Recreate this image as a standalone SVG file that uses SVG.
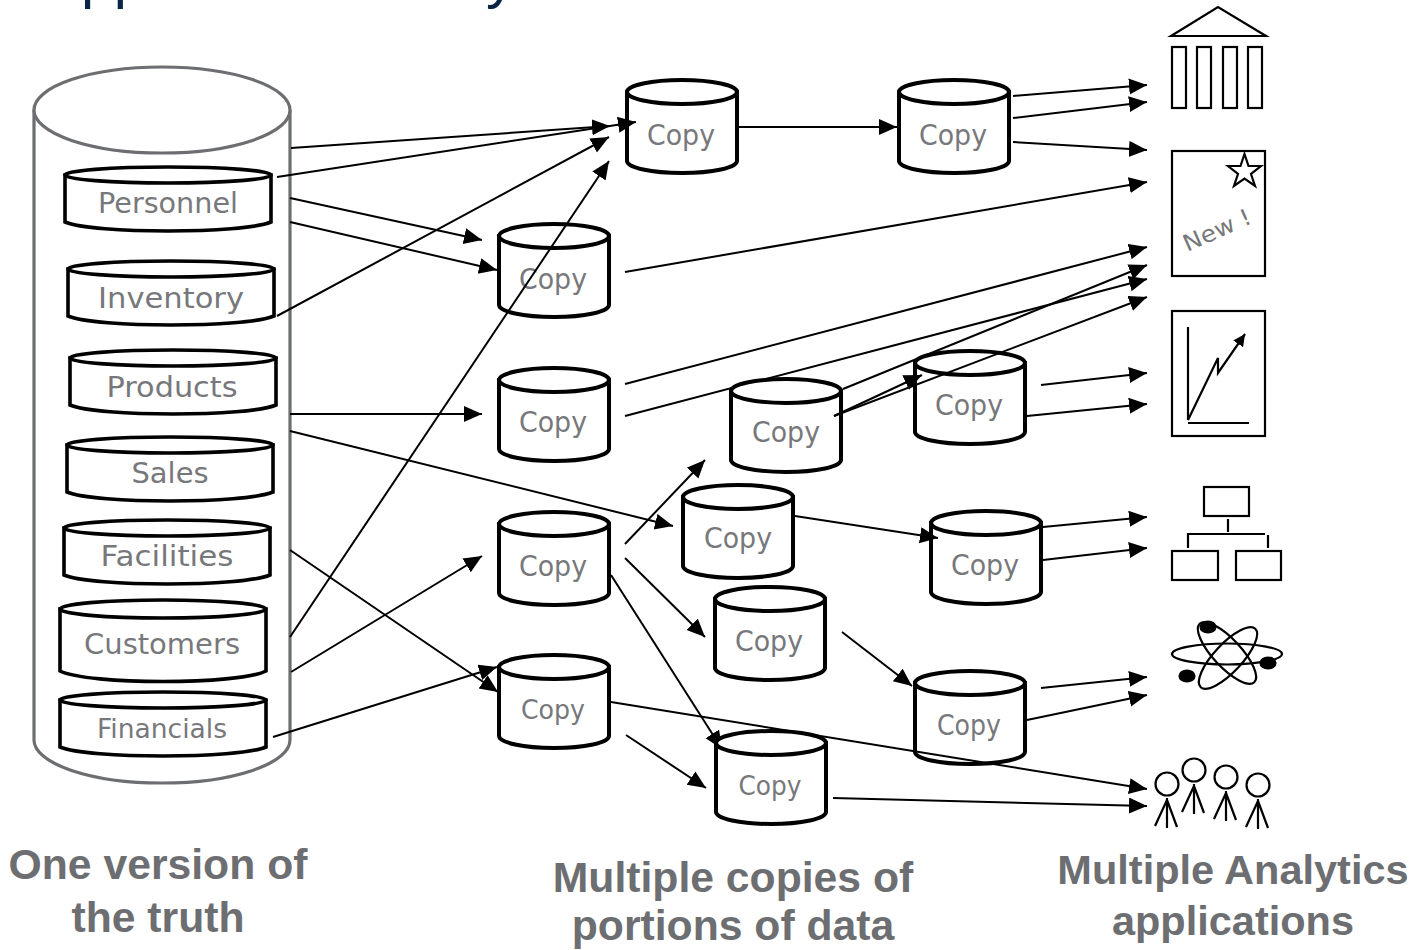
<svg xmlns="http://www.w3.org/2000/svg" xmlns:xlink="http://www.w3.org/1999/xlink" width="1425" height="950" viewBox="0 0 1425 950">
<style>
.can{fill:#fff;stroke:#000;stroke-width:4}
.tier{fill:#fff;stroke:#000;stroke-width:3.6}
.lbl{font-family:"DejaVu Sans",sans-serif;font-size:29px;fill:#77787b;text-anchor:middle}
.cap{font-family:"Liberation Sans",Arial,sans-serif;font-weight:bold;font-size:42.7px;fill:#6d6e71;text-anchor:middle}
.title{font-family:"Liberation Sans",Arial,sans-serif;font-size:59px;fill:#0b2545}
.c line{stroke:#000;stroke-width:2;marker-end:url(#ah)}
.ico{fill:#fff;stroke:#000;stroke-width:2.2}
.ln{fill:none;stroke:#000;stroke-width:2.2}
</style>
<defs>
<marker id="ah" markerUnits="userSpaceOnUse" markerWidth="20" markerHeight="18" refX="18" refY="8" orient="auto"><path d="M0,0L18,8L0,16Z" fill="#000"/></marker>
<marker id="ah2" markerUnits="userSpaceOnUse" markerWidth="14" markerHeight="14" refX="12" refY="6" orient="auto"><path d="M0,0L12,6L0,12Z" fill="#000"/></marker>
<g id="copycan"><path class="can" d="M2,14V83A55,12 0 0 0 112,83V14Z"/><ellipse class="can" cx="57" cy="14" rx="55" ry="12"/></g>
<g id="tier"><path class="tier" d="M2,10V57C30,69 180,69 208,57V10Z"/><ellipse class="tier" cx="105" cy="10" rx="103" ry="8"/></g>
<g id="tiertall"><path class="tier" d="M2,12V74C30,88 180,88 208,74V12Z"/><ellipse class="tier" cx="105" cy="12" rx="103" ry="9"/></g>
</defs>
<text class="title" x="81" y="-3.5">pp</text>
<text class="title" x="486" y="-3.5">y</text>

<g id="warehouse"><path d="M34,110V740A128,43 0 0 0 290,740V110" fill="#fff" stroke="#6d6e71" stroke-width="3.2"/><ellipse cx="162" cy="110" rx="128" ry="43" fill="#fff" stroke="#6d6e71" stroke-width="3.2"/></g>
<g id="personnel" transform="translate(63,165)"><use href="#tier"/><text class="lbl" x="105" y="48" textLength="140" lengthAdjust="spacingAndGlyphs">Personnel</text></g>
<g id="inventory" transform="translate(66,259)"><use href="#tier"/><text class="lbl" x="105" y="49" textLength="146" lengthAdjust="spacingAndGlyphs">Inventory</text></g>
<g id="products" transform="translate(68,348)"><use href="#tier"/><text class="lbl" x="104" y="49" textLength="131" lengthAdjust="spacingAndGlyphs">Products</text></g>
<g id="sales" transform="translate(65,435)"><use href="#tier"/><text class="lbl" x="105" y="48" textLength="77" lengthAdjust="spacingAndGlyphs">Sales</text></g>
<g id="facilities" transform="translate(62,518)"><use href="#tier"/><text class="lbl" x="105" y="48" textLength="133" lengthAdjust="spacingAndGlyphs">Facilities</text></g>
<g id="customers" transform="translate(58,597)"><use href="#tiertall"/><text class="lbl" x="104" y="57" textLength="156" lengthAdjust="spacingAndGlyphs">Customers</text></g>
<g id="financials" transform="translate(58,690)"><use href="#tier"/><text class="lbl" x="104" y="48" style="font-size:27px" textLength="130" lengthAdjust="spacingAndGlyphs">Financials</text></g>

<g id="copy1" transform="translate(625,78)"><use href="#copycan"/><text class="lbl" x="56" y="67" textLength="68" lengthAdjust="spacingAndGlyphs">Copy</text></g>
<g id="copy2" transform="translate(897,78)"><use href="#copycan"/><text class="lbl" x="56" y="67" textLength="68" lengthAdjust="spacingAndGlyphs">Copy</text></g>
<g id="copy3" transform="translate(497,222)"><use href="#copycan"/><text class="lbl" x="56" y="67" textLength="68" lengthAdjust="spacingAndGlyphs">Copy</text></g>
<g id="copy4" transform="translate(497,366)"><use href="#copycan"/><text class="lbl" x="56" y="66" textLength="68" lengthAdjust="spacingAndGlyphs">Copy</text></g>
<g id="copy6" transform="translate(913,349)"><use href="#copycan"/><text class="lbl" x="56" y="66" textLength="68" lengthAdjust="spacingAndGlyphs">Copy</text></g>
<g id="copy7" transform="translate(681,483)"><use href="#copycan"/><text class="lbl" x="57" y="65" textLength="68" lengthAdjust="spacingAndGlyphs">Copy</text></g>
<g id="copy8" transform="translate(929,509)"><use href="#copycan"/><text class="lbl" x="56" y="66" textLength="68" lengthAdjust="spacingAndGlyphs">Copy</text></g>
<g id="copy9" transform="translate(497,510)"><use href="#copycan"/><text class="lbl" x="56" y="66" textLength="68" lengthAdjust="spacingAndGlyphs">Copy</text></g>
<g id="copy10" transform="translate(713,585)"><use href="#copycan"/><text class="lbl" x="56" y="66" textLength="68" lengthAdjust="spacingAndGlyphs">Copy</text></g>
<g id="copy11" transform="translate(913,669)"><use href="#copycan"/><text class="lbl" x="56" y="66" textLength="64" lengthAdjust="spacingAndGlyphs">Copy</text></g>
<g id="copy12" transform="translate(497,653)"><use href="#copycan"/><text class="lbl" x="56" y="66" style="font-size:27px" textLength="64" lengthAdjust="spacingAndGlyphs">Copy</text></g>

<g id="connectors" class="c">
<line x1="291" y1="148" x2="610" y2="126"/>
<line x1="277" y1="177" x2="636" y2="122"/>
<line x1="290" y1="198" x2="482" y2="240"/>
<line x1="290" y1="222" x2="497" y2="270"/>
<line x1="277" y1="316" x2="609" y2="137"/>
<line x1="290" y1="637" x2="609" y2="161"/>
<line x1="290" y1="414" x2="482" y2="414"/>
<line x1="290" y1="431" x2="673" y2="526"/>
<line x1="290" y1="550" x2="498" y2="692"/>
<line x1="291" y1="672" x2="482" y2="556"/>
<line x1="273" y1="737" x2="497" y2="667"/>
<line x1="738" y1="127" x2="897" y2="127"/>
<line x1="1013" y1="96" x2="1147" y2="85"/>
<line x1="1013" y1="118" x2="1147" y2="102"/>
<line x1="1013" y1="142" x2="1147" y2="150"/>
<line x1="625" y1="272" x2="1147" y2="182"/>
<line x1="625" y1="384" x2="1147" y2="247"/>
<line x1="625" y1="416" x2="1147" y2="279"/>
<line x1="1041" y1="385" x2="1147" y2="373"/>
<line x1="1027" y1="416" x2="1147" y2="404"/>
<line x1="625" y1="544" x2="705" y2="460"/>
<line x1="625" y1="558" x2="705" y2="637"/>
<line x1="611" y1="575" x2="722" y2="749"/>
<line x1="795" y1="516" x2="938" y2="538"/>
<line x1="1043" y1="527" x2="1147" y2="517"/>
<line x1="1043" y1="560" x2="1147" y2="548"/>
<line x1="842" y1="632" x2="912" y2="686"/>
<line x1="1041" y1="688" x2="1147" y2="677"/>
<line x1="1027" y1="720" x2="1147" y2="695"/>
<line x1="611" y1="702" x2="1147" y2="789"/>
<line x1="626" y1="735" x2="706" y2="788"/>
<line x1="833" y1="798" x2="1147" y2="806"/>
</g>

<g id="copy5" transform="translate(729,377)"><use href="#copycan"/><text class="lbl" x="57" y="65" textLength="68" lengthAdjust="spacingAndGlyphs">Copy</text></g>
<g id="copy13" transform="translate(714,729)"><use href="#copycan"/><text class="lbl" x="56" y="66" style="font-size:26px" textLength="63" lengthAdjust="spacingAndGlyphs">Copy</text></g>

<g id="connectors-over" class="c">
<line x1="843" y1="389" x2="1147" y2="265"/>
<line x1="834" y1="416" x2="1147" y2="297"/>
<line x1="834" y1="416" x2="922" y2="375"/>
</g>

<g id="icon-building">
<polygon class="ico" points="1171,36 1218,7 1266,36"/>
<rect class="ico" x="1172" y="47" width="14" height="61"/>
<rect class="ico" x="1197" y="47" width="14" height="61"/>
<rect class="ico" x="1223" y="47" width="14" height="61"/>
<rect class="ico" x="1248" y="47" width="14" height="61"/>
</g>
<g id="icon-new">
<rect class="ico" x="1172" y="151" width="93" height="125"/>
<polygon class="ico" points="1244.5,154 1248.5,166 1261,166 1251,174 1255,186 1244.5,178.5 1234,186 1238,174 1228,166 1240.5,166"/>
<text x="1217" y="238" transform="rotate(-24 1217 230)" style="font-family:'DejaVu Sans',sans-serif;font-size:23px;fill:#77787b;text-anchor:middle" textLength="72" lengthAdjust="spacingAndGlyphs">New !</text>
</g>
<g id="icon-chart">
<rect class="ico" x="1172" y="311" width="93" height="125"/>
<path class="ln" d="M1188,327V420M1188,423H1249"/>
<path class="ln" d="M1188,420L1218,358V373L1245,334" marker-end="url(#ah2)"/>
</g>
<g id="icon-org">
<rect class="ico" x="1204" y="487" width="45" height="29"/>
<path class="ln" d="M1228,519V532M1188,548V534H1265M1268,535V548"/>
<rect class="ico" x="1172" y="551" width="46" height="29"/>
<rect class="ico" x="1236" y="551" width="45" height="29"/>
</g>
<g id="icon-atom" fill="none" stroke="#000" stroke-width="2.2">
<ellipse cx="1227" cy="654" rx="55" ry="10.5"/>
<ellipse cx="1227" cy="653" rx="40" ry="14" transform="rotate(47 1227 653)"/>
<ellipse cx="1228" cy="658" rx="40" ry="14" transform="rotate(-47 1228 658)"/>
<ellipse cx="1208" cy="627" rx="7.5" ry="5.5" fill="#000"/>
<ellipse cx="1268" cy="663" rx="7.5" ry="5.5" fill="#000"/>
<ellipse cx="1187" cy="676" rx="7.5" ry="5.5" fill="#000"/>
</g>
<g id="icon-people" fill="none" stroke="#000" stroke-width="2.2">
<circle cx="1167" cy="784" r="11.5"/><path d="M1167,798V828M1167,800L1155,826M1167,800L1177,827"/>
<circle cx="1194" cy="770" r="11.5"/><path d="M1194,784V814M1194,786L1182,812M1194,786L1204,813"/>
<circle cx="1226" cy="777" r="11.5"/><path d="M1226,791V821M1226,793L1214,819M1226,793L1236,820"/>
<circle cx="1258" cy="785" r="11.5"/><path d="M1258,799V829M1258,801L1246,827M1258,801L1268,828"/>
</g>

<g id="captions">
<text class="cap" x="158" y="879">One version of</text>
<text class="cap" x="158" y="932">the truth</text>
<text class="cap" x="733" y="892">Multiple copies of</text>
<text class="cap" x="733" y="940">portions of data</text>
<text class="cap" x="1233" y="884" style="font-size:41.5px">Multiple Analytics</text>
<text class="cap" x="1233" y="935" style="font-size:41.5px">applications</text>
</g>
</svg>
